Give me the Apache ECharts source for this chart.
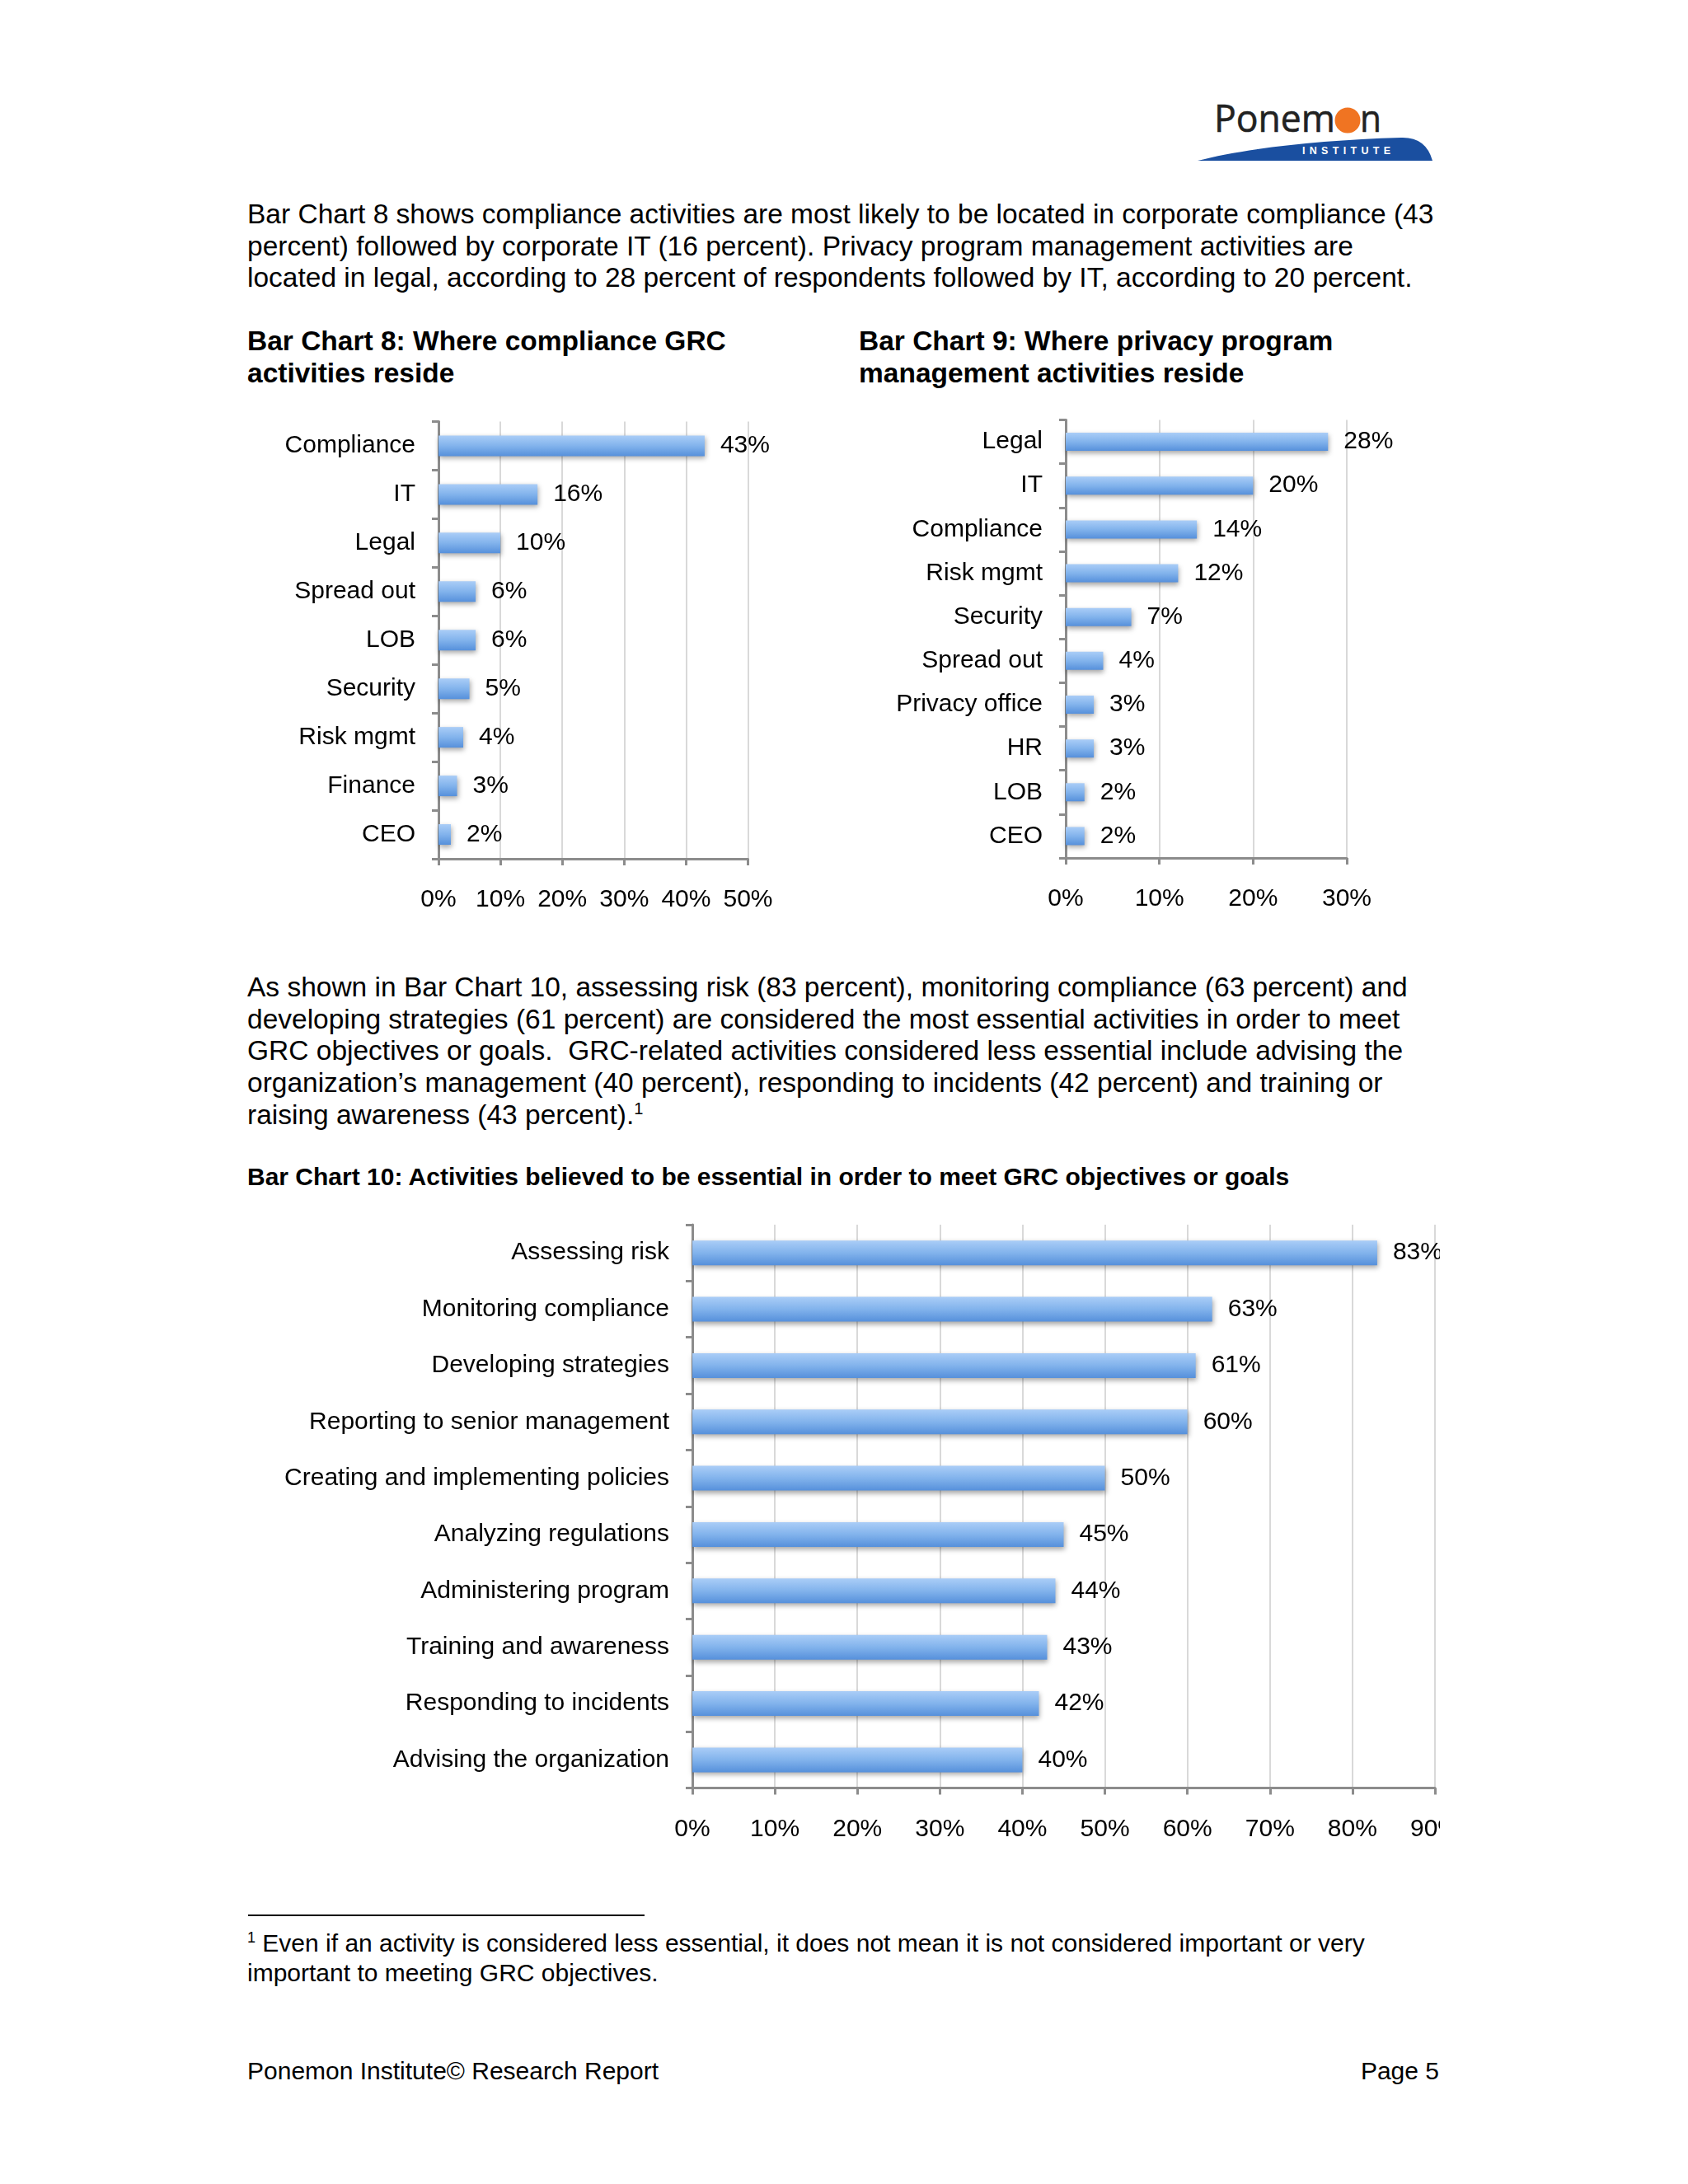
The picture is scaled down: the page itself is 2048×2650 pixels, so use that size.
<!DOCTYPE html>
<html>
<head>
<meta charset="utf-8">
<script src="https://cdn.jsdelivr.net/npm/echarts@6/dist/echarts.min.js"></script>
<style>
  html, body { margin: 0; padding: 0; background: #ffffff; }
  body { width: 2048px; height: 2650px; position: relative; overflow: hidden;
         font-family: "Liberation Sans", Arial, Helvetica, sans-serif; color: #000; }
  .t { position: absolute; white-space: pre; }
  .para { font-size: 33.5px; line-height: 38.7px; }
  .ttl { font-size: 33.5px; line-height: 38.9px; font-weight: bold; }
  .chart { position: absolute; }
  sup { font-size: 60%; line-height: 0; position: relative; top: -0.6em; vertical-align: baseline; }
</style>
</head>
<body>

<svg style="position:absolute;left:1400px;top:100px" width="360" height="110" viewBox="0 0 360 110">
  <text x="73" y="60" font-family="Open Sans, Liberation Sans, sans-serif" font-size="46" fill="#222" stroke="#222" stroke-width="0.6" textLength="147" lengthAdjust="spacingAndGlyphs">Ponem</text>
  <circle cx="235" cy="46" r="15.5" fill="#f07422"/>
  <text x="250" y="60" font-family="Open Sans, Liberation Sans, sans-serif" font-size="46" fill="#222" stroke="#222" stroke-width="0.6" textLength="26" lengthAdjust="spacingAndGlyphs">n</text>
  <path d="M53,95 C110,80 200,70 300,67 Q330,66 338,95 Z" fill="#1a4fa0"/>
  <text x="180" y="87" font-family="Liberation Sans, sans-serif" font-size="12.5" font-weight="bold" fill="#ffffff" textLength="107" lengthAdjust="spacing">INSTITUTE</text>
</svg>

<div class="t para" style="left:300px;top:241px;">Bar Chart 8 shows compliance activities are most likely to be located in corporate compliance (43
percent) followed by corporate IT (16 percent). Privacy program management activities are
located in legal, according to 28 percent of respondents followed by IT, according to 20 percent.</div>

<div class="t ttl" style="left:300px;top:395px;">Bar Chart 8: Where compliance GRC
activities reside</div>
<div class="t ttl" style="left:1042px;top:395px;">Bar Chart 9: Where privacy program
management activities reside</div>

<div id="c8" class="chart" style="left:280px;top:480px;width:700px;height:660px;"></div>
<div id="c9" class="chart" style="left:1000px;top:480px;width:720px;height:660px;"></div>

<div class="t para" style="left:300px;top:1179px;">As shown in Bar Chart 10, assessing risk (83 percent), monitoring compliance (63 percent) and
developing strategies (61 percent) are considered the most essential activities in order to meet
GRC objectives or goals.  GRC-related activities considered less essential include advising the
organization’s management (40 percent), responding to incidents (42 percent) and training or
raising awareness (43 percent).<sup>1</sup></div>

<div class="t ttl" style="left:300px;top:1409px;font-size:30px;">Bar Chart 10: Activities believed to be essential in order to meet GRC objectives or goals</div>

<div id="c10" class="chart" style="left:280px;top:1440px;width:1467px;height:820px;"></div>

<div style="position:absolute;left:301px;top:2323px;width:481px;height:2px;background:#000;"></div>
<div class="t" style="left:300px;top:2340px;font-size:30px;line-height:35.5px;"><sup>1</sup> Even if an activity is considered less essential, it does not mean it is not considered important or very
important to meeting GRC objectives.</div>

<div class="t" style="left:300px;top:2494px;font-size:30px;line-height:38px;">Ponemon Institute© Research Report</div>
<div class="t" style="right:302px;top:2494px;font-size:30px;line-height:38px;text-align:right;">Page 5</div>

<script>
// ---- data ----
var cats8 = ['Compliance', 'IT', 'Legal', 'Spread out', 'LOB', 'Security', 'Risk mgmt', 'Finance', 'CEO'];
var vals8 = [43, 16, 10, 6, 6, 5, 4, 3, 2];

var cats9 = ['Legal', 'IT', 'Compliance', 'Risk mgmt', 'Security', 'Spread out', 'Privacy office', 'HR', 'LOB', 'CEO'];
var vals9 = [28, 20, 14, 12, 7, 4, 3, 3, 2, 2];

var cats10 = ['Assessing risk', 'Monitoring compliance', 'Developing strategies', 'Reporting to senior management',
  'Creating and implementing policies', 'Analyzing regulations', 'Administering program',
  'Training and awareness', 'Responding to incidents', 'Advising the organization'];
var vals10 = [83, 63, 61, 60, 50, 45, 44, 43, 42, 40];

var axisMax8 = 50, axisMax9 = 30, axisMax10 = 90, tickStep = 10;

// ---- helpers ----
var FONT = '"Liberation Sans", Arial, Helvetica, sans-serif';

function barColor() {
  return new echarts.graphic.LinearGradient(0, 0, 0, 1, [
    { offset: 0, color: '#aacdf7' },
    { offset: 0.5, color: '#82b3ec' },
    { offset: 1, color: '#5690db' }
  ]);
}

function makeOption(cats, vals, max, grid, barW, fs) {
  grid.outerBoundsMode = 'none';
  grid.containLabel = false;
  return {
    animation: false,
    grid: grid,
    xAxis: {
      type: 'value', min: 0, max: max, interval: tickStep,
      axisLine: { show: true, lineStyle: { color: '#8c8c8c', width: 3 } },
      axisTick: { show: true, length: 8, lineStyle: { color: '#8c8c8c', width: 3 } },
      splitLine: { show: true, lineStyle: { color: '#d9d9d9', width: 2 } },
      axisLabel: { formatter: '{value}%', fontSize: fs, color: '#000', fontFamily: FONT, margin: 35,
                   showMinLabel: true, showMaxLabel: true, hideOverlap: false }
    },
    yAxis: {
      type: 'category', data: cats, inverse: true,
      axisLine: { show: true, lineStyle: { color: '#8c8c8c', width: 3 } },
      axisTick: { show: true, length: 8, lineStyle: { color: '#8c8c8c', width: 3 } },
      axisLabel: { fontSize: fs, color: '#000', fontFamily: FONT, margin: 28, interval: 0 }
    },
    series: [{
      type: 'bar', data: vals, barWidth: barW,
      itemStyle: {
        color: barColor(),
        shadowColor: 'rgba(0,0,0,0.35)', shadowBlur: 6, shadowOffsetY: 3, shadowOffsetX: 1
      },
      label: {
        show: true, position: 'right', distance: 19, formatter: '{c}%',
        fontSize: fs, color: '#000', fontFamily: FONT
      }
    }]
  };
}

var c8 = echarts.init(document.getElementById('c8'));
c8.setOption(makeOption(cats8, vals8, axisMax8, { left: 252, top: 31.5, width: 375.5, height: 530.5 }, 25, 30));

var c9 = echarts.init(document.getElementById('c9'));
c9.setOption(makeOption(cats9, vals9, axisMax9, { left: 293, top: 29.5, width: 341, height: 531.5 }, 22, 30));

var c10 = echarts.init(document.getElementById('c10'));
c10.setOption(makeOption(cats10, vals10, axisMax10, { left: 560, top: 46, width: 901, height: 683.6 }, 30, 30));
</script>
</body>
</html>
